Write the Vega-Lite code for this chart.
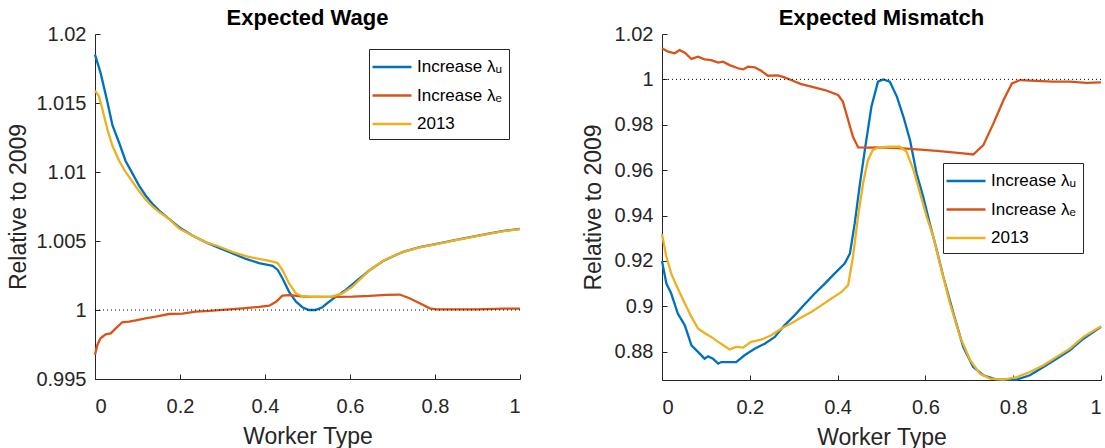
{
  "$schema": "https://vega.github.io/schema/vega-lite/v6.json",
  "padding": {"left": 7, "top": 7, "right": 0, "bottom": 0},
  "background": "white",
  "config": {
    "font": "Liberation Sans",
    "view": {"stroke": null},
    "axis": {"grid": false, "domainColor": "#262626", "tickColor": "#262626", "labelColor": "#262626", "titleColor": "#262626", "labelFontSize": 20, "titleFontSize": 23, "titleFontWeight": "normal", "tickSize": -5, "domainWidth": 1, "tickWidth": 1},
    "axisY": {"labelPadding": 14, "titlePadding": 5},
    "axisX": {"labelPadding": 22, "titlePadding": 9},
    "title": {"fontSize": 22, "fontWeight": "bold", "color": "#000", "anchor": "middle", "frame": "group", "offset": -6},
    "legend": {"title": null, "symbolType": "M-2,0H2", "symbolSize": 380, "symbolOffset": 5, "symbolStrokeWidth": 2.5, "labelFontSize": 17, "labelColor": "#000", "strokeColor": "#262626", "fillColor": "white", "padding": 7, "rowPadding": 9.5, "labelOffset": 14}
  },
  "datasets": {
    "wage": [
      {"type": 0, "value": 1.0185, "series": "Increase λᵤ"},
      {"type": 0.013, "value": 1.0172, "series": "Increase λᵤ"},
      {"type": 0.029, "value": 1.0151, "series": "Increase λᵤ"},
      {"type": 0.041, "value": 1.0134, "series": "Increase λᵤ"},
      {"type": 0.057, "value": 1.0121, "series": "Increase λᵤ"},
      {"type": 0.072, "value": 1.0108, "series": "Increase λᵤ"},
      {"type": 0.088, "value": 1.0099, "series": "Increase λᵤ"},
      {"type": 0.104, "value": 1.009, "series": "Increase λᵤ"},
      {"type": 0.119, "value": 1.0083, "series": "Increase λᵤ"},
      {"type": 0.135, "value": 1.0077, "series": "Increase λᵤ"},
      {"type": 0.151, "value": 1.0072, "series": "Increase λᵤ"},
      {"type": 0.174, "value": 1.0066, "series": "Increase λᵤ"},
      {"type": 0.198, "value": 1.006, "series": "Increase λᵤ"},
      {"type": 0.229, "value": 1.0054, "series": "Increase λᵤ"},
      {"type": 0.261, "value": 1.0049, "series": "Increase λᵤ"},
      {"type": 0.292, "value": 1.0045, "series": "Increase λᵤ"},
      {"type": 0.324, "value": 1.0041, "series": "Increase λᵤ"},
      {"type": 0.355, "value": 1.0037, "series": "Increase λᵤ"},
      {"type": 0.386, "value": 1.0034, "series": "Increase λᵤ"},
      {"type": 0.418, "value": 1.0032, "series": "Increase λᵤ"},
      {"type": 0.43, "value": 1.0029, "series": "Increase λᵤ"},
      {"type": 0.441, "value": 1.0023, "series": "Increase λᵤ"},
      {"type": 0.457, "value": 1.0013, "series": "Increase λᵤ"},
      {"type": 0.473, "value": 1.0006, "series": "Increase λᵤ"},
      {"type": 0.488, "value": 1.0002, "series": "Increase λᵤ"},
      {"type": 0.503, "value": 1.0, "series": "Increase λᵤ"},
      {"type": 0.519, "value": 1.0, "series": "Increase λᵤ"},
      {"type": 0.535, "value": 1.0002, "series": "Increase λᵤ"},
      {"type": 0.551, "value": 1.0006, "series": "Increase λᵤ"},
      {"type": 0.567, "value": 1.00097, "series": "Increase λᵤ"},
      {"type": 0.59, "value": 1.00146, "series": "Increase λᵤ"},
      {"type": 0.614, "value": 1.00207, "series": "Increase λᵤ"},
      {"type": 0.646, "value": 1.00288, "series": "Increase λᵤ"},
      {"type": 0.677, "value": 1.00353, "series": "Increase λᵤ"},
      {"type": 0.709, "value": 1.004, "series": "Increase λᵤ"},
      {"type": 0.725, "value": 1.00421, "series": "Increase λᵤ"},
      {"type": 0.764, "value": 1.00455, "series": "Increase λᵤ"},
      {"type": 0.804, "value": 1.00479, "series": "Increase λᵤ"},
      {"type": 0.844, "value": 1.00504, "series": "Increase λᵤ"},
      {"type": 0.883, "value": 1.00528, "series": "Increase λᵤ"},
      {"type": 0.923, "value": 1.00552, "series": "Increase λᵤ"},
      {"type": 0.962, "value": 1.00573, "series": "Increase λᵤ"},
      {"type": 1.0, "value": 1.00588, "series": "Increase λᵤ"},
      {"type": 0, "value": 0.99675, "series": "Increase λₑ"},
      {"type": 0.0055, "value": 0.99747, "series": "Increase λₑ"},
      {"type": 0.013, "value": 0.99795, "series": "Increase λₑ"},
      {"type": 0.025, "value": 0.99824, "series": "Increase λₑ"},
      {"type": 0.037, "value": 0.99831, "series": "Increase λₑ"},
      {"type": 0.049, "value": 0.99867, "series": "Increase λₑ"},
      {"type": 0.064, "value": 0.99911, "series": "Increase λₑ"},
      {"type": 0.08, "value": 0.99916, "series": "Increase λₑ"},
      {"type": 0.096, "value": 0.99925, "series": "Increase λₑ"},
      {"type": 0.119, "value": 0.9994, "series": "Increase λₑ"},
      {"type": 0.143, "value": 0.99952, "series": "Increase λₑ"},
      {"type": 0.174, "value": 0.99971, "series": "Increase λₑ"},
      {"type": 0.206, "value": 0.99973, "series": "Increase λₑ"},
      {"type": 0.237, "value": 0.99988, "series": "Increase λₑ"},
      {"type": 0.269, "value": 0.99993, "series": "Increase λₑ"},
      {"type": 0.308, "value": 1.00002, "series": "Increase λₑ"},
      {"type": 0.347, "value": 1.00012, "series": "Increase λₑ"},
      {"type": 0.386, "value": 1.00022, "series": "Increase λₑ"},
      {"type": 0.41, "value": 1.00031, "series": "Increase λₑ"},
      {"type": 0.426, "value": 1.0006, "series": "Increase λₑ"},
      {"type": 0.441, "value": 1.00104, "series": "Increase λₑ"},
      {"type": 0.457, "value": 1.00108, "series": "Increase λₑ"},
      {"type": 0.481, "value": 1.00101, "series": "Increase λₑ"},
      {"type": 0.5, "value": 1.00096, "series": "Increase λₑ"},
      {"type": 0.567, "value": 1.00095, "series": "Increase λₑ"},
      {"type": 0.606, "value": 1.00097, "series": "Increase λₑ"},
      {"type": 0.646, "value": 1.00102, "series": "Increase λₑ"},
      {"type": 0.685, "value": 1.0011, "series": "Increase λₑ"},
      {"type": 0.717, "value": 1.00112, "series": "Increase λₑ"},
      {"type": 0.74, "value": 1.00085, "series": "Increase λₑ"},
      {"type": 0.764, "value": 1.00049, "series": "Increase λₑ"},
      {"type": 0.788, "value": 1.00012, "series": "Increase λₑ"},
      {"type": 0.804, "value": 1.00005, "series": "Increase λₑ"},
      {"type": 0.9, "value": 1.00005, "series": "Increase λₑ"},
      {"type": 0.962, "value": 1.0001, "series": "Increase λₑ"},
      {"type": 1.0, "value": 1.0001, "series": "Increase λₑ"},
      {"type": 0, "value": 1.0159, "series": "2013"},
      {"type": 0.009, "value": 1.0155, "series": "2013"},
      {"type": 0.017, "value": 1.0146, "series": "2013"},
      {"type": 0.029, "value": 1.0131, "series": "2013"},
      {"type": 0.041, "value": 1.0119, "series": "2013"},
      {"type": 0.057, "value": 1.0108, "series": "2013"},
      {"type": 0.072, "value": 1.01, "series": "2013"},
      {"type": 0.088, "value": 1.0093, "series": "2013"},
      {"type": 0.104, "value": 1.0086, "series": "2013"},
      {"type": 0.119, "value": 1.008, "series": "2013"},
      {"type": 0.135, "value": 1.0075, "series": "2013"},
      {"type": 0.151, "value": 1.0071, "series": "2013"},
      {"type": 0.174, "value": 1.0066, "series": "2013"},
      {"type": 0.198, "value": 1.0059, "series": "2013"},
      {"type": 0.229, "value": 1.0054, "series": "2013"},
      {"type": 0.261, "value": 1.0049, "series": "2013"},
      {"type": 0.292, "value": 1.0046, "series": "2013"},
      {"type": 0.324, "value": 1.0042, "series": "2013"},
      {"type": 0.355, "value": 1.0039, "series": "2013"},
      {"type": 0.386, "value": 1.0037, "series": "2013"},
      {"type": 0.418, "value": 1.0035, "series": "2013"},
      {"type": 0.43, "value": 1.0034, "series": "2013"},
      {"type": 0.441, "value": 1.0029, "series": "2013"},
      {"type": 0.457, "value": 1.0019, "series": "2013"},
      {"type": 0.473, "value": 1.0012, "series": "2013"},
      {"type": 0.488, "value": 1.001, "series": "2013"},
      {"type": 0.503, "value": 1.00097, "series": "2013"},
      {"type": 0.519, "value": 1.00096, "series": "2013"},
      {"type": 0.535, "value": 1.00095, "series": "2013"},
      {"type": 0.555, "value": 1.00095, "series": "2013"},
      {"type": 0.582, "value": 1.0012, "series": "2013"},
      {"type": 0.606, "value": 1.0017, "series": "2013"},
      {"type": 0.646, "value": 1.00288, "series": "2013"},
      {"type": 0.677, "value": 1.00355, "series": "2013"},
      {"type": 0.709, "value": 1.00402, "series": "2013"},
      {"type": 0.725, "value": 1.00421, "series": "2013"},
      {"type": 0.764, "value": 1.00453, "series": "2013"},
      {"type": 0.804, "value": 1.00477, "series": "2013"},
      {"type": 0.844, "value": 1.00502, "series": "2013"},
      {"type": 0.883, "value": 1.00526, "series": "2013"},
      {"type": 0.923, "value": 1.0055, "series": "2013"},
      {"type": 0.962, "value": 1.00571, "series": "2013"},
      {"type": 1.0, "value": 1.00586, "series": "2013"}
    ],
    "mismatch": [
      {"type": 0, "value": 0.9199, "series": "Increase λᵤ"},
      {"type": 0.01, "value": 0.91, "series": "Increase λᵤ"},
      {"type": 0.021, "value": 0.9056, "series": "Increase λᵤ"},
      {"type": 0.036, "value": 0.8968, "series": "Increase λᵤ"},
      {"type": 0.052, "value": 0.8916, "series": "Increase λᵤ"},
      {"type": 0.067, "value": 0.8828, "series": "Increase λᵤ"},
      {"type": 0.082, "value": 0.8799, "series": "Increase λᵤ"},
      {"type": 0.097, "value": 0.8769, "series": "Increase λᵤ"},
      {"type": 0.105, "value": 0.8779, "series": "Increase λᵤ"},
      {"type": 0.116, "value": 0.8769, "series": "Increase λᵤ"},
      {"type": 0.128, "value": 0.8747, "series": "Increase λᵤ"},
      {"type": 0.135, "value": 0.8754, "series": "Increase λᵤ"},
      {"type": 0.15, "value": 0.8754, "series": "Increase λᵤ"},
      {"type": 0.169, "value": 0.8754, "series": "Increase λᵤ"},
      {"type": 0.188, "value": 0.8784, "series": "Increase λᵤ"},
      {"type": 0.211, "value": 0.8813, "series": "Increase λᵤ"},
      {"type": 0.234, "value": 0.8835, "series": "Increase λᵤ"},
      {"type": 0.257, "value": 0.8865, "series": "Increase λᵤ"},
      {"type": 0.279, "value": 0.8916, "series": "Increase λᵤ"},
      {"type": 0.302, "value": 0.896, "series": "Increase λᵤ"},
      {"type": 0.325, "value": 0.9009, "series": "Increase λᵤ"},
      {"type": 0.348, "value": 0.9056, "series": "Increase λᵤ"},
      {"type": 0.371, "value": 0.91, "series": "Increase λᵤ"},
      {"type": 0.393, "value": 0.9144, "series": "Increase λᵤ"},
      {"type": 0.416, "value": 0.9188, "series": "Increase λᵤ"},
      {"type": 0.428, "value": 0.9232, "series": "Increase λᵤ"},
      {"type": 0.439, "value": 0.9365, "series": "Increase λᵤ"},
      {"type": 0.45, "value": 0.9527, "series": "Increase λᵤ"},
      {"type": 0.462, "value": 0.9688, "series": "Increase λᵤ"},
      {"type": 0.477, "value": 0.9879, "series": "Increase λᵤ"},
      {"type": 0.492, "value": 0.999, "series": "Increase λᵤ"},
      {"type": 0.504, "value": 1.0, "series": "Increase λᵤ"},
      {"type": 0.519, "value": 0.999, "series": "Increase λᵤ"},
      {"type": 0.535, "value": 0.9924, "series": "Increase λᵤ"},
      {"type": 0.55, "value": 0.9835, "series": "Increase λᵤ"},
      {"type": 0.565, "value": 0.9732, "series": "Increase λᵤ"},
      {"type": 0.58, "value": 0.9585, "series": "Increase λᵤ"},
      {"type": 0.595, "value": 0.9482, "series": "Increase λᵤ"},
      {"type": 0.61, "value": 0.9365, "series": "Increase λᵤ"},
      {"type": 0.626, "value": 0.9247, "series": "Increase λᵤ"},
      {"type": 0.641, "value": 0.9129, "series": "Increase λᵤ"},
      {"type": 0.664, "value": 0.8968, "series": "Increase λᵤ"},
      {"type": 0.686, "value": 0.8821, "series": "Increase λᵤ"},
      {"type": 0.709, "value": 0.8732, "series": "Increase λᵤ"},
      {"type": 0.732, "value": 0.8696, "series": "Increase λᵤ"},
      {"type": 0.762, "value": 0.8677, "series": "Increase λᵤ"},
      {"type": 0.785, "value": 0.8676, "series": "Increase λᵤ"},
      {"type": 0.808, "value": 0.8677, "series": "Increase λᵤ"},
      {"type": 0.838, "value": 0.8696, "series": "Increase λᵤ"},
      {"type": 0.869, "value": 0.8732, "series": "Increase λᵤ"},
      {"type": 0.899, "value": 0.8769, "series": "Increase λᵤ"},
      {"type": 0.929, "value": 0.8806, "series": "Increase λᵤ"},
      {"type": 0.96, "value": 0.8857, "series": "Increase λᵤ"},
      {"type": 1.0, "value": 0.8909, "series": "Increase λᵤ"},
      {"type": 0, "value": 1.0137, "series": "Increase λₑ"},
      {"type": 0.014, "value": 1.0122, "series": "Increase λₑ"},
      {"type": 0.029, "value": 1.0115, "series": "Increase λₑ"},
      {"type": 0.04, "value": 1.0129, "series": "Increase λₑ"},
      {"type": 0.052, "value": 1.0118, "series": "Increase λₑ"},
      {"type": 0.067, "value": 1.009, "series": "Increase λₑ"},
      {"type": 0.082, "value": 1.01, "series": "Increase λₑ"},
      {"type": 0.097, "value": 1.0088, "series": "Increase λₑ"},
      {"type": 0.112, "value": 1.0085, "series": "Increase λₑ"},
      {"type": 0.128, "value": 1.0074, "series": "Increase λₑ"},
      {"type": 0.139, "value": 1.0078, "series": "Increase λₑ"},
      {"type": 0.154, "value": 1.0063, "series": "Increase λₑ"},
      {"type": 0.173, "value": 1.0049, "series": "Increase λₑ"},
      {"type": 0.185, "value": 1.0044, "series": "Increase λₑ"},
      {"type": 0.196, "value": 1.0056, "series": "Increase λₑ"},
      {"type": 0.211, "value": 1.0053, "series": "Increase λₑ"},
      {"type": 0.226, "value": 1.0038, "series": "Increase λₑ"},
      {"type": 0.241, "value": 1.0016, "series": "Increase λₑ"},
      {"type": 0.264, "value": 1.0018, "series": "Increase λₑ"},
      {"type": 0.279, "value": 1.0009, "series": "Increase λₑ"},
      {"type": 0.294, "value": 0.9997, "series": "Increase λₑ"},
      {"type": 0.317, "value": 0.9979, "series": "Increase λₑ"},
      {"type": 0.34, "value": 0.9968, "series": "Increase λₑ"},
      {"type": 0.371, "value": 0.9953, "series": "Increase λₑ"},
      {"type": 0.401, "value": 0.9931, "series": "Increase λₑ"},
      {"type": 0.412, "value": 0.9902, "series": "Increase λₑ"},
      {"type": 0.424, "value": 0.9821, "series": "Increase λₑ"},
      {"type": 0.435, "value": 0.9747, "series": "Increase λₑ"},
      {"type": 0.447, "value": 0.97, "series": "Increase λₑ"},
      {"type": 0.469, "value": 0.9699, "series": "Increase λₑ"},
      {"type": 0.492, "value": 0.97, "series": "Increase λₑ"},
      {"type": 0.55, "value": 0.9696, "series": "Increase λₑ"},
      {"type": 0.626, "value": 0.9685, "series": "Increase λₑ"},
      {"type": 0.686, "value": 0.9674, "series": "Increase λₑ"},
      {"type": 0.709, "value": 0.9669, "series": "Increase λₑ"},
      {"type": 0.732, "value": 0.971, "series": "Increase λₑ"},
      {"type": 0.755, "value": 0.9806, "series": "Increase λₑ"},
      {"type": 0.778, "value": 0.9909, "series": "Increase λₑ"},
      {"type": 0.797, "value": 0.9982, "series": "Increase λₑ"},
      {"type": 0.816, "value": 0.9997, "series": "Increase λₑ"},
      {"type": 0.853, "value": 0.9993, "series": "Increase λₑ"},
      {"type": 0.891, "value": 0.999, "series": "Increase λₑ"},
      {"type": 0.929, "value": 0.999, "series": "Increase λₑ"},
      {"type": 0.967, "value": 0.9985, "series": "Increase λₑ"},
      {"type": 1.0, "value": 0.9987, "series": "Increase λₑ"},
      {"type": 0, "value": 0.9318, "series": "2013"},
      {"type": 0.01, "value": 0.9218, "series": "2013"},
      {"type": 0.021, "value": 0.9144, "series": "2013"},
      {"type": 0.036, "value": 0.9078, "series": "2013"},
      {"type": 0.052, "value": 0.9012, "series": "2013"},
      {"type": 0.067, "value": 0.8953, "series": "2013"},
      {"type": 0.082, "value": 0.8902, "series": "2013"},
      {"type": 0.097, "value": 0.8882, "series": "2013"},
      {"type": 0.112, "value": 0.8865, "series": "2013"},
      {"type": 0.128, "value": 0.8843, "series": "2013"},
      {"type": 0.143, "value": 0.8824, "series": "2013"},
      {"type": 0.154, "value": 0.881, "series": "2013"},
      {"type": 0.169, "value": 0.8821, "series": "2013"},
      {"type": 0.185, "value": 0.8818, "series": "2013"},
      {"type": 0.203, "value": 0.8843, "series": "2013"},
      {"type": 0.226, "value": 0.8853, "series": "2013"},
      {"type": 0.249, "value": 0.8872, "series": "2013"},
      {"type": 0.272, "value": 0.8902, "series": "2013"},
      {"type": 0.294, "value": 0.8924, "series": "2013"},
      {"type": 0.317, "value": 0.895, "series": "2013"},
      {"type": 0.34, "value": 0.8975, "series": "2013"},
      {"type": 0.363, "value": 0.9004, "series": "2013"},
      {"type": 0.386, "value": 0.9034, "series": "2013"},
      {"type": 0.409, "value": 0.9063, "series": "2013"},
      {"type": 0.424, "value": 0.9093, "series": "2013"},
      {"type": 0.435, "value": 0.9218, "series": "2013"},
      {"type": 0.447, "value": 0.9402, "series": "2013"},
      {"type": 0.458, "value": 0.9541, "series": "2013"},
      {"type": 0.469, "value": 0.9644, "series": "2013"},
      {"type": 0.48, "value": 0.9688, "series": "2013"},
      {"type": 0.492, "value": 0.97, "series": "2013"},
      {"type": 0.519, "value": 0.9703, "series": "2013"},
      {"type": 0.542, "value": 0.9703, "series": "2013"},
      {"type": 0.557, "value": 0.9681, "series": "2013"},
      {"type": 0.573, "value": 0.96, "series": "2013"},
      {"type": 0.588, "value": 0.9497, "series": "2013"},
      {"type": 0.603, "value": 0.9394, "series": "2013"},
      {"type": 0.618, "value": 0.9306, "series": "2013"},
      {"type": 0.633, "value": 0.9188, "series": "2013"},
      {"type": 0.656, "value": 0.9012, "series": "2013"},
      {"type": 0.679, "value": 0.8865, "series": "2013"},
      {"type": 0.702, "value": 0.8762, "series": "2013"},
      {"type": 0.724, "value": 0.8703, "series": "2013"},
      {"type": 0.747, "value": 0.8681, "series": "2013"},
      {"type": 0.778, "value": 0.8677, "series": "2013"},
      {"type": 0.808, "value": 0.8688, "series": "2013"},
      {"type": 0.838, "value": 0.871, "series": "2013"},
      {"type": 0.869, "value": 0.874, "series": "2013"},
      {"type": 0.899, "value": 0.8777, "series": "2013"},
      {"type": 0.929, "value": 0.8813, "series": "2013"},
      {"type": 0.96, "value": 0.8865, "series": "2013"},
      {"type": 1.0, "value": 0.8912, "series": "2013"}
    ],
    "reference": [{"level": 1}]
  },
  "spacing": 57,
  "resolve": {"scale": {"y": "independent", "x": "independent", "color": "independent"}, "legend": {"color": "independent"}},
  "hconcat": [
    {
      "width": 425,
      "height": 345,
      "title": {"text": "Expected Wage"},
      "layer": [
        {
          "data": {"name": "wage"},
          "mark": {"type": "line", "strokeWidth": 2.3},
          "encoding": {
            "x": {"field": "type", "type": "quantitative", "scale": {"domain": [0, 1], "nice": false}, "axis": {"values": [0, 0.2, 0.4, 0.6, 0.8, 1], "format": "~g", "title": "Worker Type"}},
            "y": {"field": "value", "type": "quantitative", "scale": {"domain": [0.995, 1.02], "nice": false, "zero": false}, "axis": {"values": [0.995, 1, 1.005, 1.01, 1.015, 1.02], "format": "~g", "title": "Relative to 2009"}},
            "color": {"field": "series", "type": "nominal", "sort": null, "scale": {"domain": ["Increase λᵤ", "Increase λₑ", "2013"], "range": ["#0072BD", "#D95319", "#EDB120"]}, "legend": {"orient": "none", "legendX": 274, "legendY": 15}}
          }
        },
        {
          "data": {"name": "reference"},
          "mark": {"type": "rule", "strokeDash": [1, 3], "color": "black", "strokeWidth": 1},
          "encoding": {"y": {"field": "level", "type": "quantitative"}}
        }
      ]
    },
    {
      "width": 439,
      "height": 346,
      "title": {"text": "Expected Mismatch"},
      "layer": [
        {
          "data": {"name": "mismatch"},
          "mark": {"type": "line", "strokeWidth": 2.3},
          "encoding": {
            "x": {"field": "type", "type": "quantitative", "scale": {"domain": [0, 1], "nice": false}, "axis": {"values": [0, 0.2, 0.4, 0.6, 0.8, 1], "format": "~g", "title": "Worker Type"}},
            "y": {"field": "value", "type": "quantitative", "scale": {"domain": [0.8675, 1.02], "nice": false, "zero": false}, "axis": {"values": [0.88, 0.9, 0.92, 0.94, 0.96, 0.98, 1, 1.02], "format": "~g", "title": "Relative to 2009", "titlePadding": 9}},
            "color": {"field": "series", "type": "nominal", "sort": null, "scale": {"domain": ["Increase λᵤ", "Increase λₑ", "2013"], "range": ["#0072BD", "#D95319", "#EDB120"]}, "legend": {"orient": "none", "legendX": 281, "legendY": 129}}
          }
        },
        {
          "data": {"name": "reference"},
          "mark": {"type": "rule", "strokeDash": [1, 3], "color": "black", "strokeWidth": 1},
          "encoding": {"y": {"field": "level", "type": "quantitative"}}
        }
      ]
    }
  ]
}
